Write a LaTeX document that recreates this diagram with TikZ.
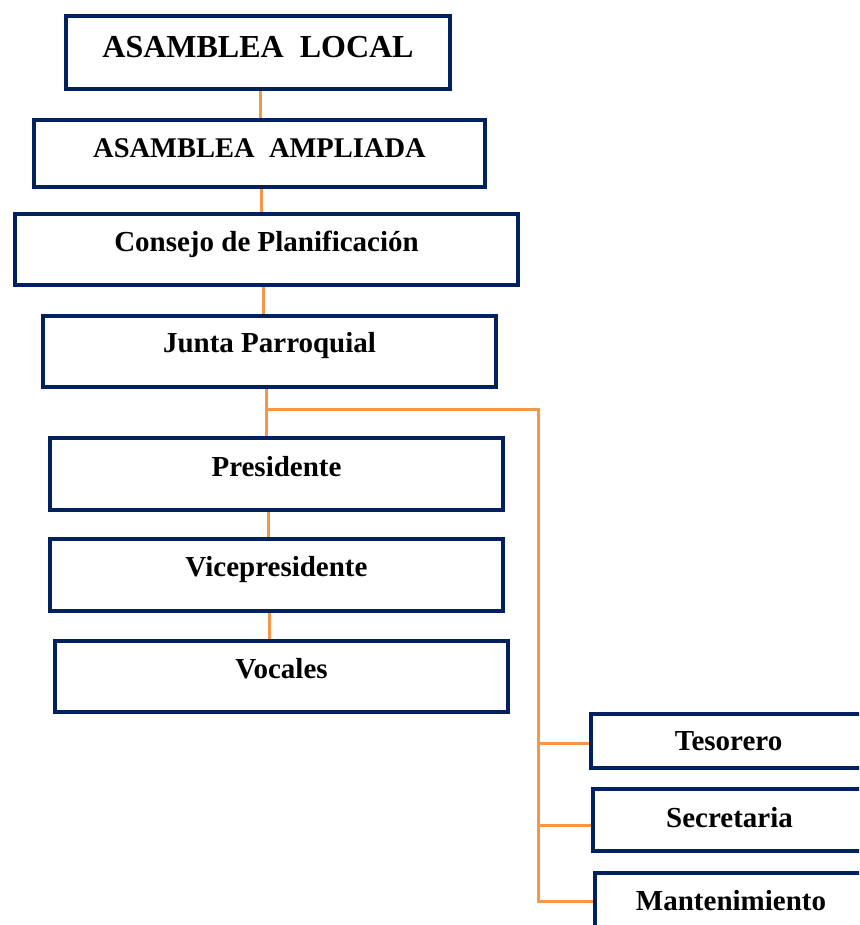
\documentclass[tikz,border=0pt]{standalone}
\usepackage{fontspec}
\setmainfont{Liberation Serif}
\definecolor{navyb}{HTML}{002060}
\definecolor{orgline}{HTML}{F79646}
\tikzset{
  orgbox/.style={draw=navyb, line width=3.5pt, fill=white, rectangle, inner sep=0pt,
    font=\bfseries\fontsize{29}{34}\selectfont, text height=19.2pt, text depth=14pt},
  conn/.style={draw=orgline, line width=3pt},
}
\begin{document}
\begin{tikzpicture}[x=1pt,y=1pt]
\clip (0,0) rectangle (859,-925);
\fill[white] (0,0) rectangle (859,-925);
% boxes
\node[orgbox, minimum width=384, minimum height=73, font=\bfseries\fontsize{32}{36}\selectfont, text height=21.2pt, text depth=12pt] (local) at (258,-52.5) {ASAMBLEA\ \ LOCAL};
\node[orgbox, minimum width=451, minimum height=67, font=\bfseries\fontsize{28.5}{34}\selectfont, text height=18.8pt, text depth=11pt] (ampl) at (259.5,-153.5) {ASAMBLEA\ \ AMPLIADA};
\node[orgbox, minimum width=503, minimum height=71, text depth=15pt] (consejo) at (266.5,-249.5) {Consejo de Planificación};
\node[orgbox, minimum width=453, minimum height=71, text depth=17pt] (junta) at (269.5,-351.5) {Junta Parroquial};
\node[orgbox, minimum width=453, minimum height=72] (pres) at (276.5,-474) {Presidente};
\node[orgbox, minimum width=453, minimum height=72, text depth=16pt] (vice) at (276.5,-575) {Vicepresidente};
\node[orgbox, minimum width=453, minimum height=71, text depth=15pt] (vocales) at (281.5,-676.5) {Vocales};
\node[orgbox, minimum width=275, minimum height=54, text depth=0pt] (tesorero) at (728.5,-741) {Tesorero};
\node[orgbox, minimum width=273, minimum height=62, text depth=5pt] (secretaria) at (729.5,-820) {Secretaria};
\node[orgbox, minimum width=272, minimum height=56, text depth=0pt] (mant) at (731,-901) {Mantenimiento};
% connector guide coordinates
\coordinate (c1) at (260,0);
\coordinate (c2) at (261,0);
\coordinate (c3) at (263,0);
\coordinate (jp) at (266,-409);
\coordinate (c5) at (268,0);
\coordinate (c6) at (269,0);
\coordinate (sp) at (538,-409);
% connectors
\draw[conn] (local.south -| c1) -- (ampl.north -| c1);
\draw[conn] (ampl.south -| c2) -- (consejo.north -| c2);
\draw[conn] (consejo.south -| c3) -- (junta.north -| c3);
\draw[conn] (junta.south -| jp) -- (pres.north -| jp);
\draw[conn] (pres.south -| c5) -- (vice.north -| c5);
\draw[conn] (vice.south -| c6) -- (vocales.north -| c6);
\draw[conn] ([xshift=-1.5pt]jp) -- (sp) |- (mant.west);
\draw[conn] ([yshift=-2pt]sp |- tesorero.west) -- ([yshift=-2pt]tesorero.west);
\draw[conn] ([yshift=-5pt]sp |- secretaria.west) -- ([yshift=-5pt]secretaria.west);
\end{tikzpicture}
\end{document}
